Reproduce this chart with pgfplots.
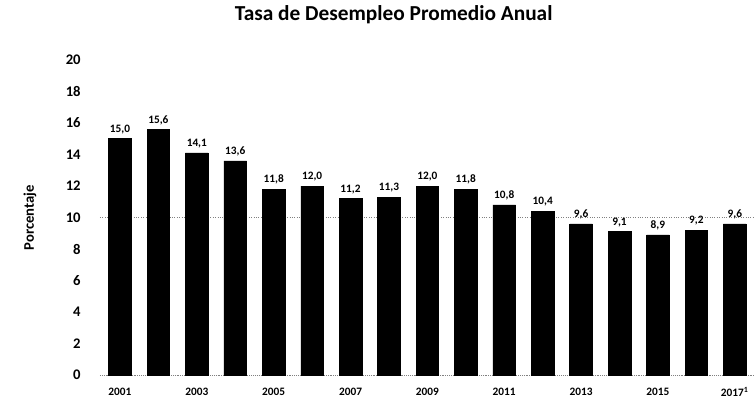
\documentclass[border=0pt]{standalone}
\usepackage{fontspec}
\setmainfont{Carlito}
\usepackage{pgfplots}
\pgfplotsset{compat=1.18}
\begin{document}
\begin{tikzpicture}
\useasboundingbox (-75pt,-24.75pt) rectangle (490.5pt,281.25pt);
\begin{axis}[
  at={(0,0)}, anchor=south west,
  scale only axis,
  width=490.5pt, height=236.25pt,
  xmin=-0.52, xmax=16.5,
  ymin=0, ymax=20,
  axis line style={draw=none},
  ytick={0,2,...,20},
  xtick={0,2,...,16},
  xticklabels={2001,2003,2005,2007,2009,2011,2013,2015,2017\textsuperscript{1}},
  major tick length=0pt,
  /pgf/number format/assume math mode=true,
  yticklabel style={font=\bfseries\fontsize{11}{13}\selectfont, xshift=-11pt},
  xticklabel style={font=\bfseries\fontsize{8.5}{10}\selectfont, yshift=-6pt},
  ybar, bar width=17pt,
  nodes near coords,
  every node near coord/.append style={font=\bfseries\fontsize{8.5}{10}\selectfont, /pgf/number format/.cd, fixed, fixed zerofill, precision=1, use comma, assume math mode=true},
  clip=false,
]
\draw[gray, densely dotted, thick] (axis cs:-0.52,10) -- (axis cs:16.5,10);
\draw[gray, densely dotted] (axis cs:-0.52,0) -- (axis cs:16.5,0);
\addplot[fill=black, draw=black] coordinates {
(0,15.0) (1,15.6) (2,14.1) (3,13.6) (4,11.8) (5,12.0) (6,11.2) (7,11.3) (8,12.0)
(9,11.8) (10,10.8) (11,10.4) (12,9.6) (13,9.1) (14,8.9) (15,9.2) (16,9.6)};
\node[font=\bfseries\fontsize{16}{19}\selectfont] at (rel axis cs:0.449,1.143) {Tasa de Desempleo Promedio Anual};
\node[font=\bfseries\fontsize{11}{13}\selectfont, rotate=90] at (rel axis cs:-0.107,0.5) {Porcentaje};
\end{axis}
\end{tikzpicture}
\end{document}
